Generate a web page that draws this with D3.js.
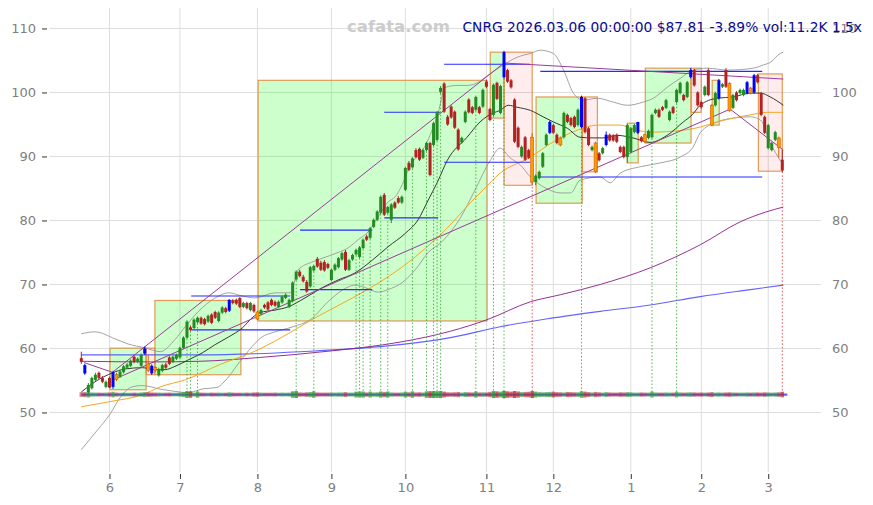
<!DOCTYPE html>
<html><head><meta charset="utf-8">
<script src="https://cdn.jsdelivr.net/npm/d3@7"></script>
<style>
html,body{margin:0;padding:0;background:#fff;}
svg{display:block;font-family:"DejaVu Sans",sans-serif;}
</style></head><body>
<svg id="chart" width="873" height="505"></svg>
<script>
const titleText = "CNRG 2026.03.06 00:00:00 $87.81 -3.89% vol:11.2K 1.5x";
const watermark = "cafata.com";
const monthLabels = ["6","7","8","9","10","11","12","1","2","3"];
const monthStartIdx = [8,28,50,71,92,115,134,156,176,195];
const yTicks = [50,60,70,80,90,100,110];

// daily candles [open, high, low, close]
const candles = [
[58.5,59.5,57.6,57.9],[57.4,57.6,55.9,56.1],[53.2,54.6,52.9,54.3],[53.8,55.6,53.6,55.4],[55.1,56.2,54.9,55.9],
[56.2,56.4,55.2,55.4],[55.4,55.7,54.6,54.8],[54.0,55.0,53.8,54.8],[55.4,55.6,53.8,53.9],[54.0,56.5,53.7,56.3],
[55.9,56.2,54.9,55.2],[55.6,56.6,55.4,56.4],[56.3,57.4,56.1,57.2],[57.0,57.7,56.8,57.5],[57.3,58.3,57.1,58.1],
[58.7,59.0,57.7,57.9],[57.9,58.6,57.7,58.4],[57.3,59.2,57.1,59.0],[59.2,60.3,59.0,60.0],[57.6,59.0,56.3,56.6],
[57.3,57.5,55.9,56.1],[57.0,57.2,56.3,56.6],[55.8,57.0,55.6,56.8],[56.5,57.6,56.3,57.4],[57.5,57.8,56.8,57.0],
[58.6,58.8,57.4,57.6],[57.9,58.9,57.7,58.7],[58.4,59.2,58.2,59.0],[58.6,60.3,58.4,60.1],[60.1,61.9,59.9,61.7],
[61.7,64.4,61.5,64.2],[63.3,63.6,62.7,62.9],[63.2,64.7,63.0,64.5],[64.1,65.0,63.9,64.8],[64.8,65.0,63.7,63.9],
[64.6,64.8,63.6,63.8],[64.2,65.3,64.0,65.1],[65.3,65.5,63.8,64.0],[65.7,65.9,64.6,64.8],[64.3,65.8,64.1,65.6],
[65.6,66.6,65.4,66.4],[66.3,66.5,65.5,65.7],[65.9,67.7,65.7,67.6],[67.5,67.7,66.9,67.1],[67.6,67.8,66.8,67.0],
[67.9,68.0,66.3,66.5],[66.5,67.3,66.3,67.1],[67.1,67.3,66.1,66.3],[66.0,67.3,65.8,67.1],[66.8,67.0,65.6,65.8],
[65.7,65.9,64.4,64.6],[65.4,66.2,65.2,66.0],[66.8,67.0,66.2,66.4],[67.2,67.4,65.9,66.1],[67.6,67.8,66.6,66.8],
[67.3,67.5,66.5,66.7],[66.5,67.5,66.3,67.3],[67.2,68.3,67.0,68.1],[67.9,68.6,67.7,68.4],[66.5,67.8,66.3,67.6],
[67.4,70.5,67.2,70.3],[70.8,72.2,70.6,72.0],[72.0,72.3,71.1,71.3],[71.2,71.5,70.3,70.5],[70.4,70.7,68.7,68.9],
[69.7,72.9,69.5,72.7],[72.2,73.1,72.0,72.9],[74.0,74.3,72.6,72.8],[73.4,73.7,72.1,72.3],[73.5,73.8,72.0,72.2],
[73.2,73.4,72.4,72.6],[70.7,72.5,70.5,72.3],[72.3,73.3,72.1,73.1],[72.7,74.3,72.5,74.1],[73.9,75.1,73.7,74.9],
[75.1,75.4,72.1,72.3],[72.3,74.0,72.1,73.8],[73.9,74.8,73.7,74.6],[74.7,75.6,74.5,75.4],[74.3,76.0,74.1,75.8],
[75.7,77.2,75.5,77.0],[77.5,77.8,76.8,77.0],[77.3,79.0,77.1,78.8],[79.0,80.3,78.8,80.1],[80.1,81.6,79.9,81.4],
[81.2,83.9,81.0,83.7],[84.0,84.3,80.7,80.9],[81.2,82.3,81.0,82.1],[80.1,82.7,79.6,82.5],[82.8,83.0,81.8,82.0],
[83.5,83.8,82.6,82.8],[82.8,83.9,82.6,83.7],[84.8,88.4,84.6,88.2],[89.0,89.3,87.7,87.9],[88.3,89.9,88.1,89.7],
[91.0,91.3,89.7,89.9],[91.2,91.4,89.3,89.5],[89.8,91.2,89.6,91.0],[91.0,92.3,90.8,92.1],[92.1,92.3,86.9,87.1],
[91.8,95.4,91.6,95.2],[92.6,97.1,92.4,96.9],[100.1,101.0,99.8,100.7],[101.4,101.6,96.8,97.0],[96.2,96.5,94.8,95.0],
[97.8,98.0,95.9,96.1],[97.0,97.2,94.3,94.5],[94.2,94.4,90.9,91.1],[92.2,93.1,92.0,92.9],[95.4,97.2,95.2,97.0],
[98.9,99.1,96.7,96.9],[97.7,97.9,96.6,96.8],[97.3,99.5,97.1,99.3],[97.7,97.9,96.6,96.8],[97.8,100.6,97.6,100.4],
[101.7,102.0,100.7,100.9],[97.4,97.6,95.5,95.7],[96.5,101.4,96.3,101.2],[101.5,101.7,98.8,99.0],[96.8,101.2,96.6,101.0],
[102.4,106.5,102.2,106.3],[103.5,103.7,101.5,101.7],[101.9,102.1,100.6,100.8],[98.9,99.1,92.1,92.3],[94.5,94.7,91.3,91.5],
[90.0,91.7,89.8,91.5],[93.0,93.2,89.3,89.5],[91.0,91.2,89.6,89.8],[93.0,93.6,85.8,86.0],[86.0,87.2,85.5,87.0],
[86.6,87.8,86.4,87.6],[88.4,90.7,88.2,90.5],[91.8,93.6,91.6,93.4],[93.7,95.6,93.5,95.4],[94.9,95.1,93.5,93.7],
[93.4,93.6,91.9,92.1],[92.9,93.1,91.6,91.8],[93.0,97.0,92.8,96.8],[96.5,96.7,95.2,95.4],[96.0,96.2,94.7,94.9],
[96.2,96.4,94.4,94.6],[94.9,97.5,94.7,97.3],[94.6,99.5,94.4,99.3],[99.1,99.3,93.6,93.8],[94.4,94.6,91.6,91.8],
[91.0,91.7,90.8,91.5],[92.1,92.3,87.4,87.6],[90.5,90.7,89.2,89.4],[90.5,91.5,90.3,91.3],[91.8,93.9,91.6,93.4],
[93.4,93.6,92.3,92.5],[93.3,93.5,92.3,92.5],[93.4,93.6,92.1,92.3],[91.5,91.7,90.5,90.7],[91.5,91.7,89.7,89.9],
[89.9,95.1,89.0,94.9],[90.7,94.6,90.5,94.4],[93.8,95.1,93.6,94.9],[93.7,95.4,93.5,95.4],[93.0,93.2,92.2,92.4],
[93.4,93.6,92.1,92.3],[92.9,94.2,92.7,94.0],[93.0,96.7,92.8,96.5],[96.8,97.5,96.6,97.3],[97.3,97.5,96.0,96.2],
[97.7,97.9,97.1,97.3],[97.6,99.0,97.4,98.8],[95.7,97.2,95.5,97.0],[97.7,97.9,96.6,96.8],[98.5,100.6,98.3,100.4],
[99.9,101.7,99.7,101.5],[99.6,99.8,98.6,98.8],[99.3,101.8,99.1,101.6],[102.4,103.8,102.2,103.5],[103.5,103.7,100.9,101.1],
[100.0,100.2,97.8,98.0],[98.5,98.7,97.5,97.7],[99.6,101.1,99.4,100.9],[103.5,103.8,99.4,99.6],[98.0,98.2,94.7,94.9],
[98.0,100.1,97.8,99.9],[99.1,102.1,98.9,101.9],[100.9,101.5,100.7,101.3],[103.5,103.8,100.7,100.9],[101.4,101.6,97.0,97.2],
[97.6,99.8,97.4,99.6],[100.0,100.2,98.6,98.8],[99.9,100.6,99.7,100.4],[99.6,100.6,99.4,100.4],[99.9,101.8,99.7,101.6],
[100.7,100.9,99.7,99.9],[100.0,102.9,99.8,102.7],[102.7,102.9,101.4,101.6],[99.9,100.1,96.3,96.5],[96.2,96.4,93.5,93.7],
[91.3,95.1,91.1,94.9],[91.0,92.3,90.8,92.1],[92.6,94.0,92.4,93.8],[92.9,93.1,89.8,91.4],[89.5,91.0,87.6,87.81]
];
const blueIdx = [1,9,18,20,42,120,133,142,149,158,173,181,189,191];
const orangeIdx = [10,19,21,50,128,136,146,160,179,184,190,198];

// volume in thousands
const volumes = [
8,9,12,7,6,6,5,6,7,11, 6,5,6,5,5,6,5,7,9,8, 7,6,6,5,5,6,5,5,7,9,
15,14,6,13,6,5,5,6,5,6, 5,5,8,6,5,5,5,6,5,7, 8,6,5,5,5,6,5,6,5,6,
14,16,7,6,8,10,14,7,6,6, 6,7,6,7,7,9,6,6,12,13, 13,7,12,7,8,13,10,13,7,6,
6,7,12,8,14,7,8,7,14,15, 16,15,16,12,8,7,8,10,6,9, 8,7,13,7,8,7,10,16,14,12,
18,14,12,16,13,9,10,11,16,12, 9,8,9,10,12,9,8,7,10,9, 8,8,14,12,9,7,10,8,6,9,
7,6,6,8,7,9,8,6,6,7, 6,6,12,7,6,6,7,6,6,11, 7,6,7,8,7,6,7,6,7,9,
6,7,6,7,8,7,6,6,6,7, 6,7,7,6,8,7,6,7,8,11.2
];

// moving averages and bands, read as [day index, price]
const ma20 = [[0,53.2],[3.9,54.8],[8.9,56.2],[12.4,56.8],[17.3,57.0],[20.9,56.7],[23.8,56.7],[26.6,57.2],[30.3,58.2],[34.3,59.3],[38,60.6],[41.8,61.8],[45.7,63.2],[48.5,64.8],[50.7,65.6],[55,66.0],[58.7,66.5],[63.5,67.9],[68.4,69.5],[72.9,70.7],[77.7,71.8],[82.6,73.8],[87.1,75.9],[92,78.0],[95.6,80.1],[98.5,83.2],[101.1,86.0],[103.9,89.4],[109.5,93.0],[113.2,95.4],[116.9,96.8],[118.9,97.2],[121.2,98.0],[123.7,97.7],[127.5,97.2],[131.1,96.2],[134,95.4],[138,94.4],[141.6,93.0],[145.3,92.9],[148.1,92.9],[152.1,93.3],[156.6,92.9],[161.5,92.2],[166.3,93.3],[170.9,95.4],[173.4,96.5],[175.7,98.0],[180.5,99.1],[185.1,99.3],[189.9,99.9],[192.8,99.9],[195.6,99.3],[199.3,98.0]];
const bbUpper = [[0,62.3],[3.9,62.6],[9.6,61.5],[13.3,60.7],[18.1,60.1],[22.4,59.5],[26.6,61.4],[29.5,63.4],[33.1,65.7],[38,67.9],[41.8,68.7],[45.7,68.2],[49.3,67.9],[55,68.7],[59.3,68.7],[61.6,72.3],[65.5,73.5],[68.4,74.1],[72.9,75.0],[75.7,75.7],[78.6,77.0],[81.4,78.2],[84.3,80.6],[87.1,82.9],[89.1,83.7],[91.1,85.6],[92.8,87.9],[98.2,92.3],[101.3,96.8],[103.3,100.8],[106.7,101.1],[109.5,101.1],[112.4,101.5],[115.2,102.6],[119.8,104.3],[123.7,105.5],[127.5,106.1],[130.3,106.6],[134,106.1],[136.9,103.5],[139.7,99.9],[142.5,98.8],[146.5,99.1],[151,98.5],[155,98.0],[159.5,98.5],[162.4,99.1],[166.3,100.8],[170,102.2],[173.7,103.5],[177.7,103.8],[183.4,103.5],[190.8,103.8],[193.6,104.3],[195.6,104.7],[198.4,106.1],[199.3,106.3]];
const bbLower = [[0,44.2],[4.8,47.4],[8.1,49.7],[11,52.3],[14.4,54.0],[17.2,54.2],[22.9,53.6],[26.6,53.3],[30.3,53.1],[34.6,53.7],[38.5,53.9],[40.2,54.6],[45.1,58.0],[48.5,60.3],[51.3,61.8],[54.4,62.5],[60.1,63.4],[65,64.5],[70.6,67.6],[75.7,69.6],[77.7,69.9],[80.6,69.5],[84.3,68.8],[87.1,69.2],[91.1,70.3],[94.8,72.3],[98.5,75.0],[102.4,76.7],[107.6,80.4],[111.8,84.8],[116.1,89.4],[118.9,91.3],[121.7,89.8],[124.6,88.7],[127.5,86.8],[131.7,85.1],[136,84.3],[138.9,84.3],[141.6,86.3],[147.3,86.8],[150.1,85.9],[153,87.4],[158.7,88.4],[164.4,89.0],[170,89.9],[173.7,91.5],[175.7,93.7],[180.5,95.4],[185.1,96.0],[189.9,96.2],[192.8,95.7],[195.6,92.1],[198.4,89.4],[199.3,88.7]];
const ma50 = [[0,50.9],[8.1,51.7],[17.5,52.8],[22.4,54.0],[29.5,55.1],[39.4,57.5],[50.2,59.8],[59.3,62.5],[66.4,64.8],[77.7,68.1],[87.1,71.2],[94.8,74.3],[100.4,77.0],[103.3,78.5],[111.2,83.2],[114.1,84.8],[118.9,87.4],[127.5,89.9],[134,92.3],[140.8,94.1],[146.5,94.9],[153,94.9],[156.6,94.3],[161.5,93.8],[170.9,94.1],[175.7,94.6],[180.5,95.4],[185.1,96.0],[189.9,96.5],[194.7,96.9],[199.3,96.9]];
const ma100 = [[0,58.0],[19.6,57.9],[33.7,58.0],[50.7,58.6],[70.6,59.6],[90.5,61.0],[104.8,62.7],[115.2,64.5],[127.5,67.3],[136,68.4],[147.3,70.0],[161.5,72.6],[175.7,76.2],[187.1,79.8],[194.2,81.3],[199.3,82.1]];
const ma200 = [[0,59.0],[33.7,59.0],[62.1,59.5],[90.5,60.6],[104.8,61.7],[118.9,63.4],[133.1,64.7],[147.3,65.8],[161.5,66.8],[175.7,68.1],[190,69.2],[199.3,69.9]];

// swing boxes
const boxStart  = [8.15,18.4,20.9,50.2,116.1,120.0,129.1,142.2,155.0,160.1,173.1,179.1,192.2];
const boxEnd    = [18.4,20.9,45.3,115.2,120.0,128.0,142.2,146.5,158.1,173.1,176.0,181.1,199.0];
const boxTop    = [60.05,60.05,67.5,101.9,106.3,106.3,99.3,99.3,95.2,103.8,103.8,101.9,102.9];
const boxBottom = [53.55,55.9,55.9,64.3,96.0,85.5,82.7,87.6,89.0,92.1,96.9,94.9,87.7];
const boxKind   = ["up","down","up","up","up","down","up","down","up","up","down","up","down"];

// horizontal levels
const levelStart = [31.2,31.2,62.1,62.1,86.0,86.0,103.0,103.0,129.7,130.3];
const levelEnd   = [59.3,59.3,82.6,82.6,101.3,101.9,127.4,127.4,193.3,193.3];
const levelPrice = [68.2,62.9,69.2,78.5,80.4,96.9,104.4,89.1,86.8,103.3];

// trend lines [i1, p1, i2, p2]
const trendLines = [[0.8,57.8,8.7,56.3],[8.9,56.3,120.0,104.6],[9.0,55.1,184.2,97.4],[184.2,97.4,199.3,91.0],[120.0,104.6,199.3,102.1]];

// signal days (dotted markers)
const signalUp = [30,31,33,61,66,78,79,80,82,85,87,94,98,100,101,102,112,117,120,142,162,169];
const signalDown = [128,199];

const svg = d3.select("#chart");
const x = d3.scaleLinear().domain([0,199]).range([81.3,782.3]);
const y = d3.scaleLinear().domain([40.7,113.2]).range([472,8]);
const plotL = 50, plotR = 821, plotT = 8, plotB = 472;

// grid
const grid = svg.append("g");
grid.selectAll(".hg").data(yTicks).join("line")
  .attr("x1",plotL).attr("x2",plotR).attr("y1",d=>y(d)).attr("y2",d=>y(d))
  .attr("stroke","#dedede").attr("stroke-width",1);
grid.selectAll(".vg").data(monthStartIdx).join("line")
  .attr("x1",d=>x(d)).attr("x2",d=>x(d)).attr("y1",plotT).attr("y2",plotB)
  .attr("stroke","#dedede").attr("stroke-width",1);

// boxes
const boxes = svg.append("g");
boxStart.forEach((s,k)=>{
  boxes.append("rect")
    .attr("x",x(s)).attr("width",x(boxEnd[k])-x(s))
    .attr("y",y(boxTop[k])).attr("height",y(boxBottom[k])-y(boxTop[k]))
    .attr("fill", boxKind[k]==="up" ? "rgba(0,255,0,0.2)" : "rgba(255,0,0,0.07)")
    .attr("stroke","#e08a3c").attr("stroke-opacity",0.85).attr("stroke-width",1.2);
});

// lines
const line = d3.line().x(d=>x(d[0])).y(d=>y(d[1])).curve(d3.curveMonotoneX);
const lg = svg.append("g").attr("fill","none");
lg.append("path").attr("d",line(bbUpper)).attr("stroke","#999").attr("stroke-width",0.9);
lg.append("path").attr("d",line(bbLower)).attr("stroke","#999").attr("stroke-width",0.9);
lg.append("path").attr("d",line(ma200)).attr("stroke","#4848ff").attr("stroke-width",1.1).attr("stroke-opacity",0.85);
lg.append("path").attr("d",line(ma100)).attr("stroke","#8a1a8a").attr("stroke-width",0.9);
lg.append("path").attr("d",line(ma50)).attr("stroke","#f5a623").attr("stroke-width",1);
lg.append("path").attr("d",line(ma20)).attr("stroke","#222").attr("stroke-width",0.9);

// levels
const lv = svg.append("g");
levelPrice.forEach((p,k)=>{
  lv.append("line").attr("x1",x(levelStart[k])).attr("x2",x(levelEnd[k]))
    .attr("y1",y(p)).attr("y2",y(p)).attr("stroke","#2828ff").attr("stroke-width",1.1);
});
// trend lines
const tl = svg.append("g");
trendLines.forEach(t=>{
  tl.append("line").attr("x1",x(t[0])).attr("y1",y(t[1])).attr("x2",x(t[2])).attr("y2",y(t[3]))
    .attr("stroke","#9b3b9b").attr("stroke-width",1);
});

// volume
const baseY = y(52.8);
const vh = d3.scaleLinear().domain([0,18]).range([2.5,7.5]);
const vg = svg.append("g");
const vmax = d3.max(volumes);
vg.append("line").attr("x1",x(0)).attr("x2",x(199)+5).attr("y1",baseY).attr("y2",baseY)
  .attr("stroke","#3a3aff").attr("stroke-width",2.2).attr("stroke-opacity",0.8);
volumes.forEach((v,i)=>{
  const c = candles[i];
  const up = c[3] >= c[0];
  const h = vh(v);
  vg.append("rect").attr("x",x(i)-1.75).attr("width",3.5)
    .attr("y",baseY-h/2).attr("height",h)
    .attr("fill", up ? "#1f8f1f" : "#b22222")
    .attr("fill-opacity", 0.3 + 0.55*(v/vmax));
});

// signal dotted lines
const sg = svg.append("g");
signalUp.forEach(i=>{
  sg.append("line").attr("x1",x(i)).attr("x2",x(i)).attr("y1",y(candles[i][2])).attr("y2",baseY)
    .attr("stroke","#2ca02c").attr("stroke-width",1).attr("stroke-dasharray","1.5,2").attr("stroke-opacity",0.8);
});
signalDown.forEach(i=>{
  sg.append("line").attr("x1",x(i)).attr("x2",x(i)).attr("y1",y(candles[i][2])).attr("y2",baseY)
    .attr("stroke","#d62728").attr("stroke-width",1).attr("stroke-dasharray","1.5,2").attr("stroke-opacity",0.8);
});

// candles
const cg = svg.append("g");
candles.forEach((c,i)=>{
  const [o,h,l,cl] = c;
  let col = cl >= o ? "#228b22" : "#b22222";
  let stroke = null;
  if (blueIdx.includes(i)) col = "#0000ff";
  if (orangeIdx.includes(i)) { col = "#ff9a00"; stroke = "#d06000"; }
  const cx = x(i);
  cg.append("line").attr("x1",cx).attr("x2",cx).attr("y1",y(h)).attr("y2",y(l))
    .attr("stroke", stroke || col).attr("stroke-width",1);
  const top = y(Math.max(o,cl)), bot = y(Math.min(o,cl));
  const r = cg.append("rect").attr("x",cx-1.5).attr("width",3)
    .attr("y",top).attr("height",Math.max(1,bot-top)).attr("fill",col);
  if (stroke) r.attr("stroke",stroke).attr("stroke-width",0.6);
});

// axes
const axL = svg.append("g").attr("transform",`translate(47,0)`)
  .call(d3.axisLeft(y).tickValues(yTicks).tickSize(5).tickPadding(6).tickFormat(d3.format("d")));
const axR = svg.append("g").attr("transform",`translate(${plotR},0)`)
  .call(d3.axisRight(y).tickValues(yTicks).tickSize(0).tickPadding(11).tickFormat(d3.format("d")));
const axB = svg.append("g").attr("transform",`translate(0,474)`)
  .call(d3.axisBottom(x).tickValues(monthStartIdx).tickSize(5).tickPadding(4).tickFormat((d,k)=>monthLabels[k]));
[axL,axR,axB].forEach(a=>{
  a.select(".domain").remove();
  a.selectAll("text").attr("fill","#808080").style("font-size","13px").style("font-family","DejaVu Sans, sans-serif");
  a.selectAll(".tick line").attr("stroke","#333");
});

// texts
svg.append("text").attr("x",347).attr("y",32).text(watermark)
  .attr("fill","#cccccc").style("font-weight","bold").style("font-size","16.5px");
svg.append("text").attr("x",862).attr("y",32).attr("text-anchor","end").text(titleText)
  .attr("fill","#0b0b8f").style("font-size","13.8px");
</script>
</body></html>
